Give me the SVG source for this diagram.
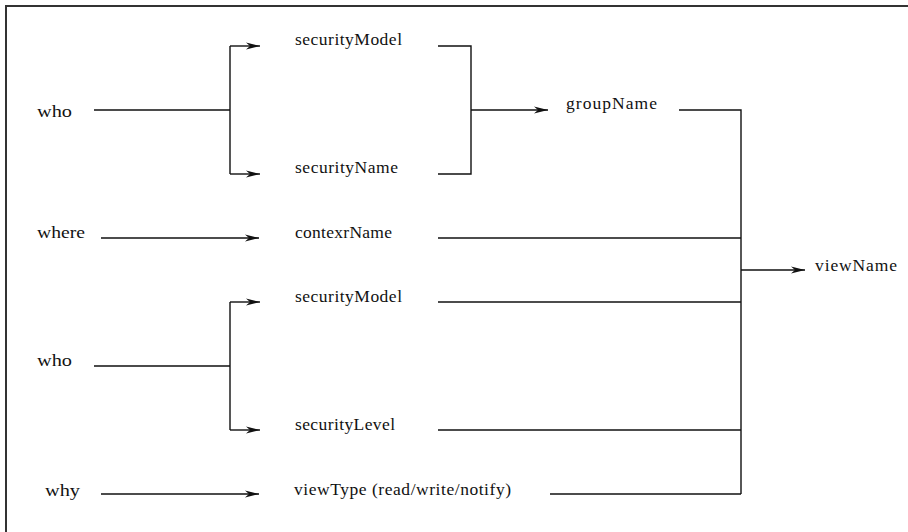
<svg xmlns="http://www.w3.org/2000/svg" width="908" height="532" viewBox="0 0 908 532">
<style>
text{font-family:"Liberation Serif","Times New Roman",serif;font-size:17.5px;fill:#111}
.c{fill:none;stroke:#111;stroke-width:1.4}
.f{fill:none;stroke:#333;stroke-width:2}
</style>
<defs>
<marker id="ah" markerUnits="userSpaceOnUse" markerWidth="18" markerHeight="10" viewBox="-16 -5 18 10" refX="0" refY="0" orient="auto">
<path d="M-14,-3.5 L0,0 L-14,3.5 L-10,0 Z" fill="#111"/>
</marker>
</defs>
<rect width="908" height="532" fill="#fff"/>
<path class="f" d="M6,532 V6 H908"/>
<g id="connectors">
<path class="c" d="M94,110 H230 M230,46 V174"/>
<path class="c" d="M230,46 H260" marker-end="url(#ah)"/>
<path class="c" d="M230,174 H260" marker-end="url(#ah)"/>
<path class="c" d="M438,46 H471 V174 H438"/>
<path class="c" d="M471,110 H548" marker-end="url(#ah)"/>
<path class="c" d="M679,110 H741 V494"/>
<path class="c" d="M101,238 H259" marker-end="url(#ah)"/>
<path class="c" d="M438,238 H741"/>
<path class="c" d="M741,270 H805" marker-end="url(#ah)"/>
<path class="c" d="M438,302 H741"/>
<path class="c" d="M94,366 H230 M230,302 V430"/>
<path class="c" d="M230,302 H260" marker-end="url(#ah)"/>
<path class="c" d="M230,430 H260" marker-end="url(#ah)"/>
<path class="c" d="M438,430 H741"/>
<path class="c" d="M101,494 H259" marker-end="url(#ah)"/>
<path class="c" d="M550,494 H741"/>
</g>
<g id="who1"><text x="37" y="117" textLength="35" lengthAdjust="spacingAndGlyphs">who</text></g>
<g id="securityModel1"><text x="295" y="45" textLength="107" lengthAdjust="spacing">securityModel</text></g>
<g id="securityName"><text x="295" y="173" textLength="103" lengthAdjust="spacing">securityName</text></g>
<g id="groupName"><text x="566" y="109" textLength="91" lengthAdjust="spacing">groupName</text></g>
<g id="where"><text x="37" y="238" textLength="48" lengthAdjust="spacingAndGlyphs">where</text></g>
<g id="contexrName"><text x="295" y="238" textLength="97" lengthAdjust="spacing">contexrName</text></g>
<g id="viewName"><text x="815" y="271" textLength="82" lengthAdjust="spacing">viewName</text></g>
<g id="securityModel2"><text x="295" y="302" textLength="107" lengthAdjust="spacing">securityModel</text></g>
<g id="who2"><text x="37" y="366" textLength="35" lengthAdjust="spacingAndGlyphs">who</text></g>
<g id="securityLevel"><text x="295" y="430" textLength="100" lengthAdjust="spacing">securityLevel</text></g>
<g id="why"><text x="45" y="496" textLength="35" lengthAdjust="spacingAndGlyphs">why</text></g>
<g id="viewType"><text x="294" y="495" textLength="217" lengthAdjust="spacing">viewType (read/write/notify)</text></g>
</svg>
